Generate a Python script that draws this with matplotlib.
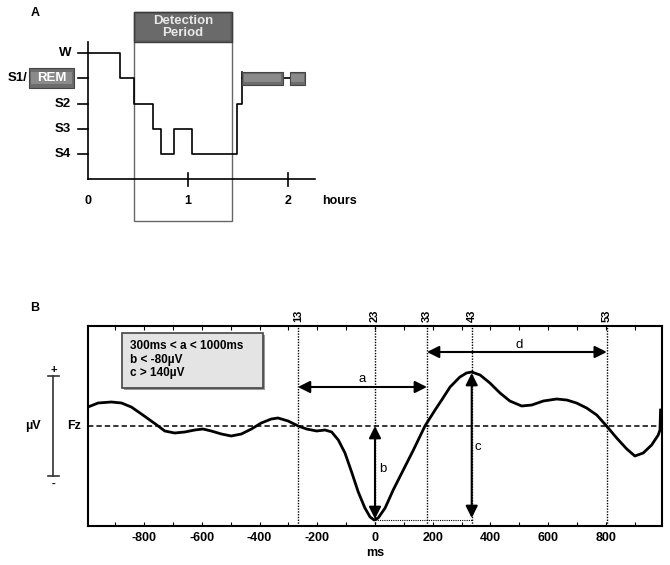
import numpy as np
import matplotlib.pyplot as plt
from matplotlib.patches import Rectangle

plt.rcParams['font.family'] = ['Liberation Sans', 'DejaVu Sans']
plt.rcParams['axes.unicode_minus'] = False

# ---- Panel A data (hypnogram) ----
stufen = ['W', 'S1/', 'S2', 'S3', 'S4']
stufen_level = [4, 3, 2, 1, 0]
hyp_zeit = [0, 0.32, 0.46, 0.65, 0.73, 0.86, 1.04, 1.49, 1.54]
hyp_stufe = [4, 3, 2, 1, 0, 1, 0, 2, 3]
rem_bloecke = [(1.54, 1.95), (2.02, 2.17)]
detektion = (0.46, 1.44)
stunden_ticks = [0, 1, 2]

# ---- Panel B data (waveform) ----
wave_ms = [-994, -959, -913, -878, -844, -809, -775, -751, -728, -694, -659, -624,
           -596, -567, -532, -498, -463, -428, -394, -359, -336, -301, -266, -237,
           -202, -173, -150, -127, -104, -81, -58, -35, -17, -3, 11, 35, 63, 98,
           133, 173, 208, 231, 260, 294, 317, 335, 364, 398, 433, 467, 508, 543,
           583, 629, 664, 698, 733, 768, 802, 837, 872, 900, 929, 958, 981, 987, 989]
wave_uv = [19, 23, 24, 23, 19, 12, 5, 0, -5, -7, -6, -4,
           -3, -5, -8, -10, -8, -3, 3, 7, 8, 5, 0, -3,
           -5, -4, -6, -14, -27, -46, -66, -82, -91, -94, -92, -82, -64, -44,
           -24, 0, 16, 26, 39, 49, 53, 54, 51, 43, 33, 25, 20, 21,
           25, 27, 26, 23, 18, 11, 0, -12, -23, -30, -27, -19, -9, -4, 16]
marker_ms = [-267, 0, 180, 335, 803]
marker_txt = ['13', '23', '33', '43', '53']
kriterien = ['300ms < a < 1000ms', 'b < -80µV', 'c > 140µV']
trough_uv = -94
peak_uv = 54

fig = plt.figure(figsize=(6.7, 5.65), dpi=100)

# ================= Panel A =================
axA = fig.add_axes([0, 1 - 230 / 565, 350 / 670, 230 / 565])
axA.set_xlim(-0.88, 2.62)
axA.set_ylim(-3.01, 6.1)
axA.axis('off')

# detection period box
d0, d1 = detektion
axA.add_patch(Rectangle((d0, -2.65), d1 - d0, 5.62 + 2.65, fill=False,
                        edgecolor='#666666', lw=1.0, zorder=1))
axA.add_patch(Rectangle((d0, 4.43), d1 - d0, 5.62 - 4.43, facecolor='#5e5e5e',
                        edgecolor='#3c3c3c', lw=1.0, zorder=2))
axA.add_patch(Rectangle((d0 + 0.02, 4.5), d1 - d0 - 0.04, 1.05, facecolor='#6a6a6a',
                        edgecolor='none', zorder=2))
axA.text((d0 + d1) / 2, 5.03, 'Detection\nPeriod', ha='center', va='center',
         color='#e8e8e8', fontsize=9.5, fontweight='bold', linespacing=1.0, zorder=3)

# axes
axA.plot([0, 0], [-1, 4.43], color='k', lw=1.2)
axA.plot([0, 2.27], [-1, -1], color='k', lw=1.2)
for t in stunden_ticks:
    if t > 0:
        axA.plot([t, t], [-1.25, -0.75], color='k', lw=1.2)
    axA.text(t, -1.87, str(t), ha='center', va='center', fontsize=9, fontweight='bold')
axA.text(2.34, -1.87, 'hours', ha='left', va='center', fontsize=9, fontweight='bold')

for name, lev in zip(stufen, stufen_level):
    axA.plot([-0.1, 0], [lev, lev], color='k', lw=1.2)
    if name == 'S1/':
        axA.text(-0.61, lev, name, ha='right', va='center', fontsize=9.5, fontweight='bold')
    else:
        axA.text(-0.17, lev, name, ha='right', va='center', fontsize=9.5, fontweight='bold')


def rem_box(ax, x0, x1, y0, y1, label=None):
    ax.add_patch(Rectangle((x0, y0), x1 - x0, y1 - y0, facecolor='#6c6c6c',
                           edgecolor='#444444', lw=0.8, zorder=4))
    dx = (x1 - x0) * 0.04
    dy = (y1 - y0) * 0.18
    ax.add_patch(Rectangle((x0 + dx, y0 + dy), x1 - x0 - 2 * dx, y1 - y0 - 2 * dy,
                           facecolor='#8a8a8a', edgecolor='none', zorder=4))
    if label:
        ax.text((x0 + x1) / 2, (y0 + y1) / 2, label, ha='center', va='center',
                color='white', fontsize=9.5, fontweight='bold', zorder=5)


rem_box(axA, -0.59, -0.14, 2.61, 3.41, 'REM')

# hypnogram
axA.step(hyp_zeit, hyp_stufe, where='post', color='k', lw=1.2, zorder=3)
axA.plot([hyp_zeit[-1], hyp_zeit[-1]], [hyp_stufe[-1], 3.26], color='k', lw=1.2, zorder=3)
axA.plot([rem_bloecke[0][1], rem_bloecke[1][0]], [3, 3], color='k', lw=1.2, zorder=3)
for r0, r1 in rem_bloecke:
    rem_box(axA, r0, r1, 2.74, 3.26)

axA.text(-0.53, 5.58, 'A', ha='center', va='center', fontsize=9, fontweight='bold')

# ================= Panel B =================
axB = fig.add_axes([88 / 670, 1 - 526 / 565, 574 / 670, 200 / 565])
axB.set_xlim(-994, 994)
axB.set_ylim(-100, 100)
axB.set_xticks(range(-800, 801, 200))
axB.set_xticks(range(-900, 901, 100), minor=True)
axB.set_yticks([])
axB.tick_params(axis='x', which='both', direction='in', top=True, length=3,
                width=0.8, labelsize=9, pad=4)
for lab in axB.get_xticklabels():
    lab.set_fontweight('bold')
for s in axB.spines.values():
    s.set_linewidth(1.5)

axB.axhline(0, color='k', lw=1.1, ls=(0, (3.5, 2)), zorder=2)
for xm, txt in zip(marker_ms, marker_txt):
    axB.axvline(xm, color='k', lw=1.0, ls=(0, (1, 1)), zorder=2)
    axB.text(xm, 104, txt, rotation=90, ha='center', va='bottom', fontsize=8,
             fontweight='bold', clip_on=False)

axB.plot(wave_ms, wave_uv, color='k', lw=2.0, zorder=4, solid_joinstyle='round')

# trough reference line
axB.plot([0, marker_ms[3]], [trough_uv, trough_uv], color='k', lw=0.8,
         ls=(0, (1, 1)), zorder=2)

pfeil = dict(arrowstyle='<|-|>,head_length=0.6,head_width=0.3', color='k', lw=1.5,
             shrinkA=0, shrinkB=0, mutation_scale=12)
axB.annotate('', xy=(marker_ms[0], 39), xytext=(marker_ms[2], 39), arrowprops=pfeil, zorder=5)
axB.annotate('', xy=(marker_ms[2], 74), xytext=(marker_ms[4], 74), arrowprops=pfeil, zorder=5)
axB.annotate('', xy=(0, 0), xytext=(0, trough_uv + 1), arrowprops=pfeil, zorder=5)
axB.annotate('', xy=(marker_ms[3], peak_uv - 1), xytext=(marker_ms[3], trough_uv + 2),
             arrowprops=pfeil, zorder=5)
axB.text(-43, 47, 'a', ha='center', va='center', fontsize=9.5)
axB.text(498, 81, 'd', ha='center', va='center', fontsize=9.5)
axB.text(28, -43, 'b', ha='center', va='center', fontsize=9.5)
axB.text(356, -21, 'c', ha='center', va='center', fontsize=9.5)

# criteria box
axB.add_patch(Rectangle((-870, 36), 488, 55, facecolor='#9a9a9a', edgecolor='none', zorder=5))
axB.add_patch(Rectangle((-876, 38), 488, 55, facecolor='#e4e4e4', edgecolor='#444444',
                        lw=1.2, zorder=6))
for i, zeile in enumerate(kriterien):
    axB.text(-850, 80 - i * 13.5, zeile, ha='left', va='center', fontsize=8.5,
             fontweight='bold', zorder=7)

# scale bar on the left
xs = -1115
axB.plot([xs, xs], [-50, 50], color='#333333', lw=1.2, clip_on=False)
for yy in (-50, 50):
    axB.plot([xs - 19, xs + 19], [yy, yy], color='#333333', lw=1.2, clip_on=False)
axB.text(xs + 3, 51, '+', ha='center', va='bottom', fontsize=8, fontweight='bold')
axB.text(xs + 3, -53, '-', ha='center', va='top', fontsize=8, fontweight='bold')
axB.text(-1184, 0, 'µV', ha='center', va='center', fontsize=9, fontweight='bold')
axB.text(-1018, 0, 'Fz', ha='right', va='center', fontsize=9, fontweight='bold')
axB.text(0, -127, 'ms', ha='center', va='center', fontsize=9, fontweight='bold')
axB.text(-1177, 118, 'B', ha='center', va='center', fontsize=9, fontweight='bold')

fig.savefig('out.png', dpi=100)
